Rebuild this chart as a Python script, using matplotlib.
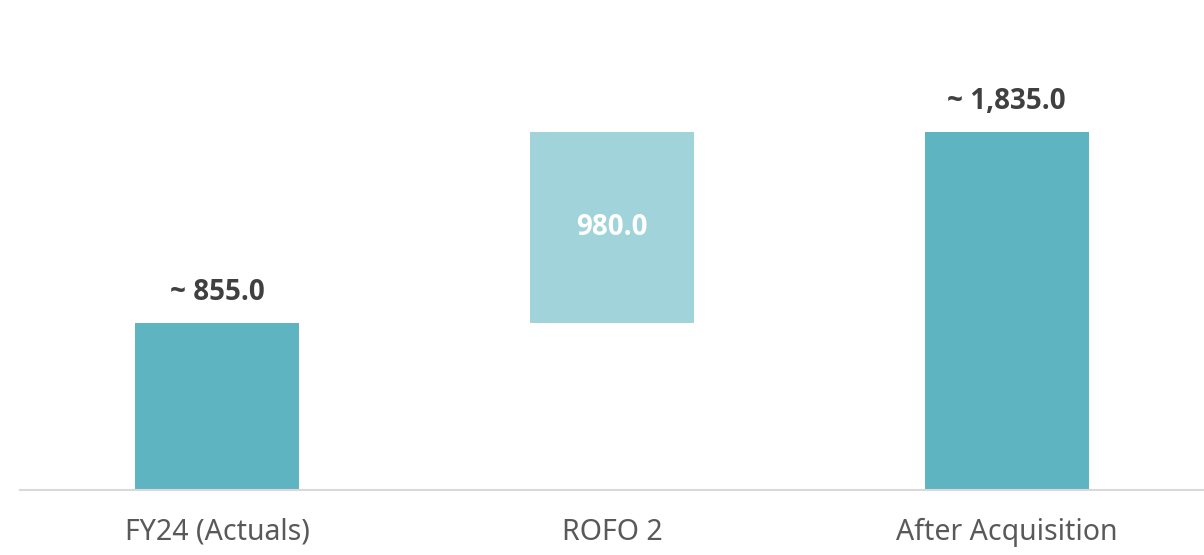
import matplotlib.pyplot as plt

plt.rcParams['font.family'] = ['Noto Sans', 'DejaVu Sans']

# Waterfall data
categories = ['FY24 (Actuals)', 'ROFO 2', 'After Acquisition']
base_value = 855.0
rofo_value = 980.0
total_value = base_value + rofo_value

dark_teal = '#5FB4C2'
light_teal = '#A0D3DA'
value_font = ['Open Sans', 'DejaVu Sans']

fig = plt.figure(figsize=(12.04, 5.55), dpi=100)
ax = fig.add_axes([20 / 1204, 65 / 555, 1184 / 1204, 490 / 555])

x = range(len(categories))
width = 0.416

# FY24 bar
ax.bar(0, base_value, width=width, color=dark_teal)
# ROFO 2 floating bar
ax.bar(1, rofo_value, bottom=base_value, width=width, color=light_teal)
# After acquisition: stacked pieces
ax.bar(2, base_value, width=width, color=dark_teal)
ax.bar(2, rofo_value, bottom=base_value, width=width, color=dark_teal)

# Value labels
offset = 155
ax.text(0, base_value + offset, f'~ {base_value:,.1f}', ha='center', va='center',
        fontsize=20, fontweight='bold', color='#404040', family=value_font)
ax.text(1, base_value + rofo_value / 2, f'{rofo_value:,.1f}', ha='center', va='center',
        fontsize=20, fontweight='bold', color='white', family=value_font)
ax.text(2, total_value + offset, f'~ {total_value:,.1f}', ha='center', va='center',
        fontsize=20, fontweight='bold', color='#404040', family=value_font)

ax.set_xlim(-0.5, 2.5)
ax.set_ylim(0, 2511)
ax.set_xticks(list(x))
ax.set_xticklabels(categories, fontsize=20.5, color='#595959')
ax.tick_params(axis='x', length=0, pad=20)
ax.set_yticks([])

for side in ['top', 'right', 'left']:
    ax.spines[side].set_visible(False)
ax.spines['bottom'].set_color('#D9D9D9')
ax.spines['bottom'].set_linewidth(1.5)

fig.savefig('out.png', dpi=100)
